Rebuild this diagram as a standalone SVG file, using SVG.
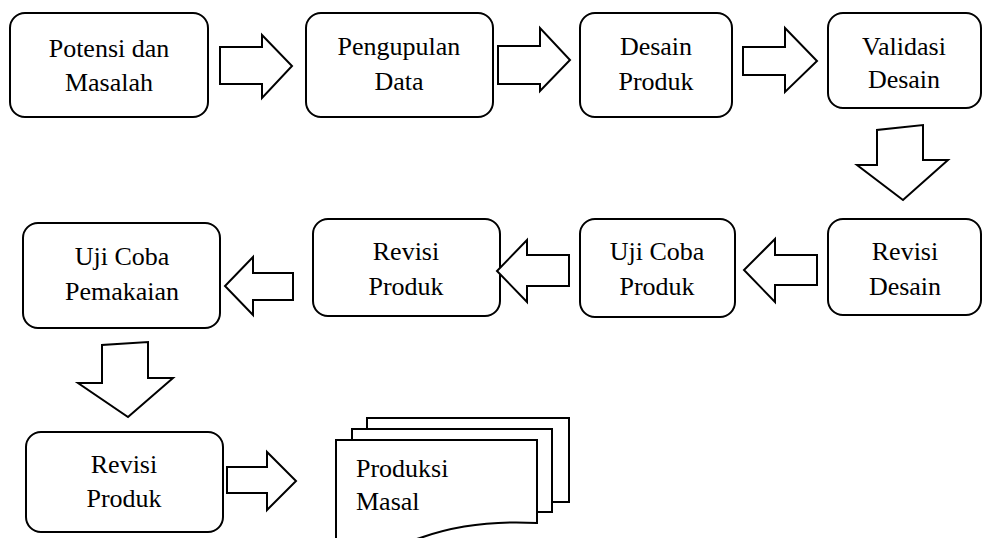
<svg xmlns="http://www.w3.org/2000/svg" width="983" height="538" viewBox="0 0 983 538">
<style>
.box{fill:#fff;stroke:#000;stroke-width:2}
.arr{fill:#fff;stroke:#000;stroke-width:2;stroke-linejoin:miter}
text{font-size:26px;fill:#000}
.c{text-anchor:middle}
</style>
<rect width="983" height="538" fill="#fff"/>
<g id="n1"><rect class="box" x="10" y="13" width="198" height="104" rx="15"/><text class="c" x="109" y="57" style="font-family:'Liberation Serif','Times New Roman',serif">Potensi dan</text><text class="c" x="109" y="91" style="font-family:'Liberation Serif','Times New Roman',serif">Masalah</text></g>
<g id="n2"><rect class="box" x="306" y="13" width="187" height="104" rx="15"/><text class="c" x="399" y="55" style="font-family:'Liberation Serif','Times New Roman',serif">Pengupulan</text><text class="c" x="399" y="90" style="font-family:'Liberation Serif','Times New Roman',serif">Data</text></g>
<g id="n3"><rect class="box" x="580" y="13" width="152" height="104" rx="15"/><text class="c" x="656" y="55" style="font-family:'Liberation Serif','Times New Roman',serif">Desain</text><text class="c" x="656" y="90" style="font-family:'Liberation Serif','Times New Roman',serif">Produk</text></g>
<g id="n4"><rect class="box" x="828" y="13" width="153" height="95" rx="15"/><text class="c" x="904" y="55" style="font-family:'Liberation Serif','Times New Roman',serif">Validasi</text><text class="c" x="904" y="88" style="font-family:'Liberation Serif','Times New Roman',serif">Desain</text></g>
<g id="n5"><rect class="box" x="828" y="219" width="153" height="96" rx="15"/><text class="c" x="905" y="260" style="font-family:'Liberation Serif','Times New Roman',serif">Revisi</text><text class="c" x="905" y="295" style="font-family:'Liberation Serif','Times New Roman',serif">Desain</text></g>
<g id="n6"><rect class="box" x="580" y="219" width="155" height="98" rx="15"/><text class="c" x="657" y="260" style="font-family:'Liberation Serif','Times New Roman',serif">Uji Coba</text><text class="c" x="657" y="295" style="font-family:'Liberation Serif','Times New Roman',serif">Produk</text></g>
<g id="n7"><rect class="box" x="313" y="219" width="187" height="97" rx="15"/><text class="c" x="406" y="260" style="font-family:'Liberation Serif','Times New Roman',serif">Revisi</text><text class="c" x="406" y="295" style="font-family:'Liberation Serif','Times New Roman',serif">Produk</text></g>
<g id="n8"><rect class="box" x="23" y="223" width="197" height="105" rx="15"/><text class="c" x="122" y="265" style="font-family:'Liberation Serif','Times New Roman',serif">Uji Coba</text><text class="c" x="122" y="300" style="font-family:'Liberation Serif','Times New Roman',serif">Pemakaian</text></g>
<g id="n9"><rect class="box" x="26" y="432" width="197" height="100" rx="15"/><text class="c" x="124" y="473" style="font-family:'Liberation Serif','Times New Roman',serif">Revisi</text><text class="c" x="124" y="507" style="font-family:'Liberation Serif','Times New Roman',serif">Produk</text></g>
<g id="n10">
<rect class="box" x="367" y="418" width="202" height="84"/>
<rect class="box" x="352" y="429" width="200" height="83"/>
<path class="box" d="M336,440 H537 V523 C500,521 460,524 423,537 C400,545 370,548 336,548 Z"/>
<text x="356" y="477" style="font-family:'Liberation Serif','Times New Roman',serif">Produksi</text><text x="356" y="510" style="font-family:'Liberation Serif','Times New Roman',serif">Masal</text>
</g>
<g id="connectors">
<polygon class="arr" points="220,47 262,47 262,35 292,66 262,98 262,84 220,84"/>
<polygon class="arr" points="498,46 540,46 540,28 570,60 540,91 540,84 498,84"/>
<polygon class="arr" points="743,47 785,47 785,28 817,61 785,92 785,75 743,75"/>
<polygon class="arr" points="877,130 877,165 857,165 903,200 948,160 923,160 923,125"/>
<polygon class="arr" points="817,255 775,255 775,239 744,270 775,302 775,285 817,285"/>
<polygon class="arr" points="569,255 527,255 527,240 497,271 527,302 527,286 569,286"/>
<polygon class="arr" points="293,273 253,273 253,257 225,286 253,315 253,300 293,300"/>
<polygon class="arr" points="102,345 102,383 78,383 128,417 173,378 148,378 148,342"/>
<polygon class="arr" points="227,467 267,467 267,452 296,481 267,510 267,493 227,493"/>
</g>
</svg>
